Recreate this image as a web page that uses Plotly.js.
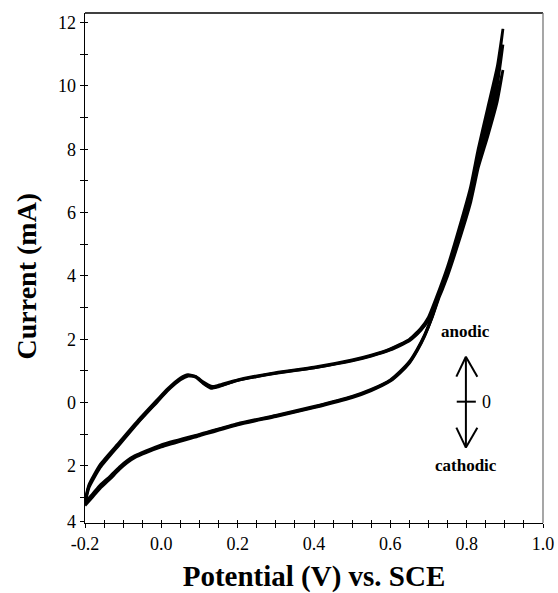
<!DOCTYPE html>
<html>
<head>
<meta charset="utf-8">
<script src="https://cdn.plot.ly/plotly-3.0.1.min.js"></script>
<style>html,body{margin:0;padding:0;background:#fff;}#chart{width:558px;height:593px;}</style>
</head>
<body>
<div id="chart"></div>
<script>
// Potential (V vs. SCE) for the forward (anodic) and reverse (cathodic) sweeps
const potentialForward = [-0.2, -0.19, -0.16, -0.11, -0.06, -0.01, 0.015, 0.05, 0.07, 0.09, 0.11, 0.13, 0.15, 0.2, 0.3, 0.4, 0.5, 0.55, 0.6, 0.65, 0.68, 0.70, 0.72, 0.75, 0.78, 0.81, 0.83, 0.855, 0.88, 0.895];
const potentialReverse = [0.895, 0.88, 0.855, 0.83, 0.81, 0.78, 0.755, 0.73, 0.71, 0.69, 0.67, 0.65, 0.625, 0.6, 0.55, 0.5, 0.4, 0.3, 0.2, 0.1, 0.0, -0.04, -0.07, -0.09, -0.11, -0.135, -0.16, -0.18, -0.2];

// Current (mA), three overlapping cycles
const cycle1Forward = [-3.1, -2.6, -1.95, -1.25, -0.55, 0.1, 0.42, 0.78, 0.88, 0.82, 0.62, 0.5, 0.55, 0.72, 0.95, 1.12, 1.35, 1.5, 1.7, 2.0, 2.35, 2.7, 3.3, 4.3, 5.5, 6.8, 8.0, 9.3, 10.6, 11.8];
const cycle1Reverse = [11.8, 10.4, 9.0, 7.8, 6.7, 5.4, 4.4, 3.5, 2.75, 2.15, 1.68, 1.3, 0.98, 0.72, 0.42, 0.2, -0.12, -0.4, -0.66, -1.0, -1.33, -1.52, -1.68, -1.83, -2.03, -2.33, -2.6, -2.88, -3.15];
const cycle2Forward = [-3.15, -2.65, -2.0, -1.3, -0.6, 0.05, 0.38, 0.74, 0.85, 0.8, 0.6, 0.45, 0.5, 0.7, 0.93, 1.1, 1.33, 1.48, 1.68, 1.98, 2.3, 2.65, 3.2, 4.15, 5.3, 6.6, 7.75, 9.0, 10.2, 11.3];
const cycle2Reverse = [11.3, 10.0, 8.7, 7.6, 6.5, 5.3, 4.3, 3.45, 2.72, 2.12, 1.65, 1.27, 0.95, 0.7, 0.4, 0.18, -0.14, -0.42, -0.68, -1.02, -1.36, -1.55, -1.71, -1.87, -2.07, -2.38, -2.66, -2.93, -3.2];
const cycle3Forward = [-3.2, -2.7, -2.05, -1.33, -0.62, 0.03, 0.36, 0.72, 0.84, 0.83, 0.65, 0.52, 0.52, 0.7, 0.92, 1.1, 1.32, 1.47, 1.66, 1.95, 2.28, 2.6, 3.1, 4.0, 5.1, 6.3, 7.4, 8.6, 9.7, 10.5];
const cycle3Reverse = [10.5, 9.5, 8.4, 7.4, 6.3, 5.15, 4.2, 3.4, 2.7, 2.1, 1.63, 1.25, 0.93, 0.68, 0.38, 0.16, -0.16, -0.44, -0.7, -1.05, -1.4, -1.58, -1.74, -1.9, -2.11, -2.42, -2.7, -2.98, -3.25];

// Tick labels
const xTickVals = [-0.2, 0.0, 0.2, 0.4, 0.6, 0.8, 1.0];
const xTickText = ["-0.2", "0.0", "0.2", "0.4", "0.6", "0.8", "1.0"];
const yTickVals = [-3.75, -2, 0, 2, 4, 6, 8, 10, 12];
const yTickText = ["4", "2", "0", "2", "4", "6", "8", "10", "12"];
const yMinorVals = [-3, -1, 1, 3, 5, 7, 9, 11];

const FONT = 'Liberation Serif, Times New Roman, Times, serif';

const cycles = [
  [cycle1Forward, cycle1Reverse],
  [cycle2Forward, cycle2Reverse],
  [cycle3Forward, cycle3Reverse]
];
const traces = cycles.map(c => ({
  type: 'scatter', mode: 'lines',
  x: potentialForward.concat(potentialReverse),
  y: c[0].concat(c[1]),
  line: {color: '#000', width: 2.8, shape: 'spline', smoothing: 0.5},
  hoverinfo: 'skip', showlegend: false
}));
traces.push({type: 'scatter', mode: 'lines', x: [], y: [], xaxis: 'x2', yaxis: 'y2', showlegend: false, hoverinfo: 'skip'});

const xRange = [-0.2, 1.0];
const yRange = [-3.8, 12.3];

const layout = {
  width: 558, height: 593,
  margin: {l: 85, r: 15, t: 13, b: 70},
  paper_bgcolor: '#fff', plot_bgcolor: '#fff',
  font: {family: FONT, color: '#000', size: 18},
  showlegend: false,
  xaxis: {
    range: xRange, showgrid: false, zeroline: false,
    showline: true, linecolor: '#000', linewidth: 1.3,
    tickmode: 'array', tickvals: xTickVals, ticktext: xTickText,
    ticks: 'outside', ticklen: 4, tickcolor: '#000', tickwidth: 1,
    minor: {tickmode: 'linear', tick0: -0.2, dtick: 0.05, ticks: 'outside', ticklen: 4, tickcolor: '#000', tickwidth: 1},
    tickfont: {family: FONT, size: 18, color: '#000'},
    title: {text: '<b>Potential (V) vs. SCE</b>', font: {family: FONT, size: 29, color: '#000'}, standoff: 14}
  },
  yaxis: {
    range: yRange, showgrid: false, zeroline: false,
    showline: true, linecolor: '#000', linewidth: 1.3,
    tickmode: 'array', tickvals: yTickVals, ticktext: yTickText,
    ticks: 'outside', ticklen: 4, tickcolor: '#000', tickwidth: 1,
    minor: {tickmode: 'array', tickvals: yMinorVals, ticks: 'outside', ticklen: 4, tickcolor: '#000', tickwidth: 1},
    tickfont: {family: FONT, size: 18, color: '#000'}
  },
  xaxis2: {
    overlaying: 'x', matches: 'x', anchor: 'y2', side: 'bottom',
    showgrid: false, zeroline: false, showline: false, showticklabels: false,
    tickmode: 'linear', tick0: -0.2, dtick: 0.05,
    ticks: 'inside', ticklen: 3, tickcolor: '#000', tickwidth: 1
  },
  yaxis2: {
    overlaying: 'y', matches: 'y', anchor: 'x2', side: 'left',
    showgrid: false, zeroline: false, showline: false, showticklabels: false,
    tickmode: 'linear', tick0: 0, dtick: 1,
    ticks: 'inside', ticklen: 3, tickcolor: '#000', tickwidth: 1
  },
  shapes: [
    {type: 'line', xref: 'paper', yref: 'paper', x0: 0, x1: 1, y0: 1, y1: 1, line: {color: '#000', width: 1.3}},
    {type: 'line', xref: 'paper', yref: 'paper', x0: 1, x1: 1, y0: 0, y1: 1, line: {color: '#777', width: 1.3}},
    {type: 'line', xref: 'x', yref: 'y', x0: 0.798, x1: 0.798, y0: 1.45, y1: -1.42, line: {color: '#000', width: 2}},
    {type: 'line', xref: 'x', yref: 'y', x0: 0.798, x1: 0.773, y0: 1.45, y1: 0.82, line: {color: '#000', width: 2}},
    {type: 'line', xref: 'x', yref: 'y', x0: 0.798, x1: 0.828, y0: 1.45, y1: 0.82, line: {color: '#000', width: 2}},
    {type: 'line', xref: 'x', yref: 'y', x0: 0.798, x1: 0.773, y0: -1.42, y1: -0.79, line: {color: '#000', width: 2}},
    {type: 'line', xref: 'x', yref: 'y', x0: 0.798, x1: 0.828, y0: -1.42, y1: -0.79, line: {color: '#000', width: 2}},
    {type: 'line', xref: 'x', yref: 'y', x0: 0.774, x1: 0.824, y0: 0.03, y1: 0.03, line: {color: '#000', width: 2}}
  ],
  annotations: [
    {xref: 'paper', yref: 'paper', x: -0.127, y: 0.485, xanchor: 'center', yanchor: 'middle', textangle: -90,
     text: '<b>Current (mA)</b>', showarrow: false, font: {family: FONT, size: 28, color: '#000'}},
    {xref: 'x', yref: 'y', x: 0.798, y: 2.25, text: '<b>anodic</b>', showarrow: false, font: {family: FONT, size: 17, color: '#000'}},
    {xref: 'x', yref: 'y', x: 0.798, y: -1.98, text: '<b>cathodic</b>', showarrow: false, font: {family: FONT, size: 17, color: '#000'}},
    {xref: 'x', yref: 'y', x: 0.834, y: 0.03, text: '0', showarrow: false, xanchor: 'left', font: {family: FONT, size: 18, color: '#000'}}
  ]
};

Plotly.newPlot('chart', traces, layout, {staticPlot: true, displayModeBar: false});
</script>
</body>
</html>
